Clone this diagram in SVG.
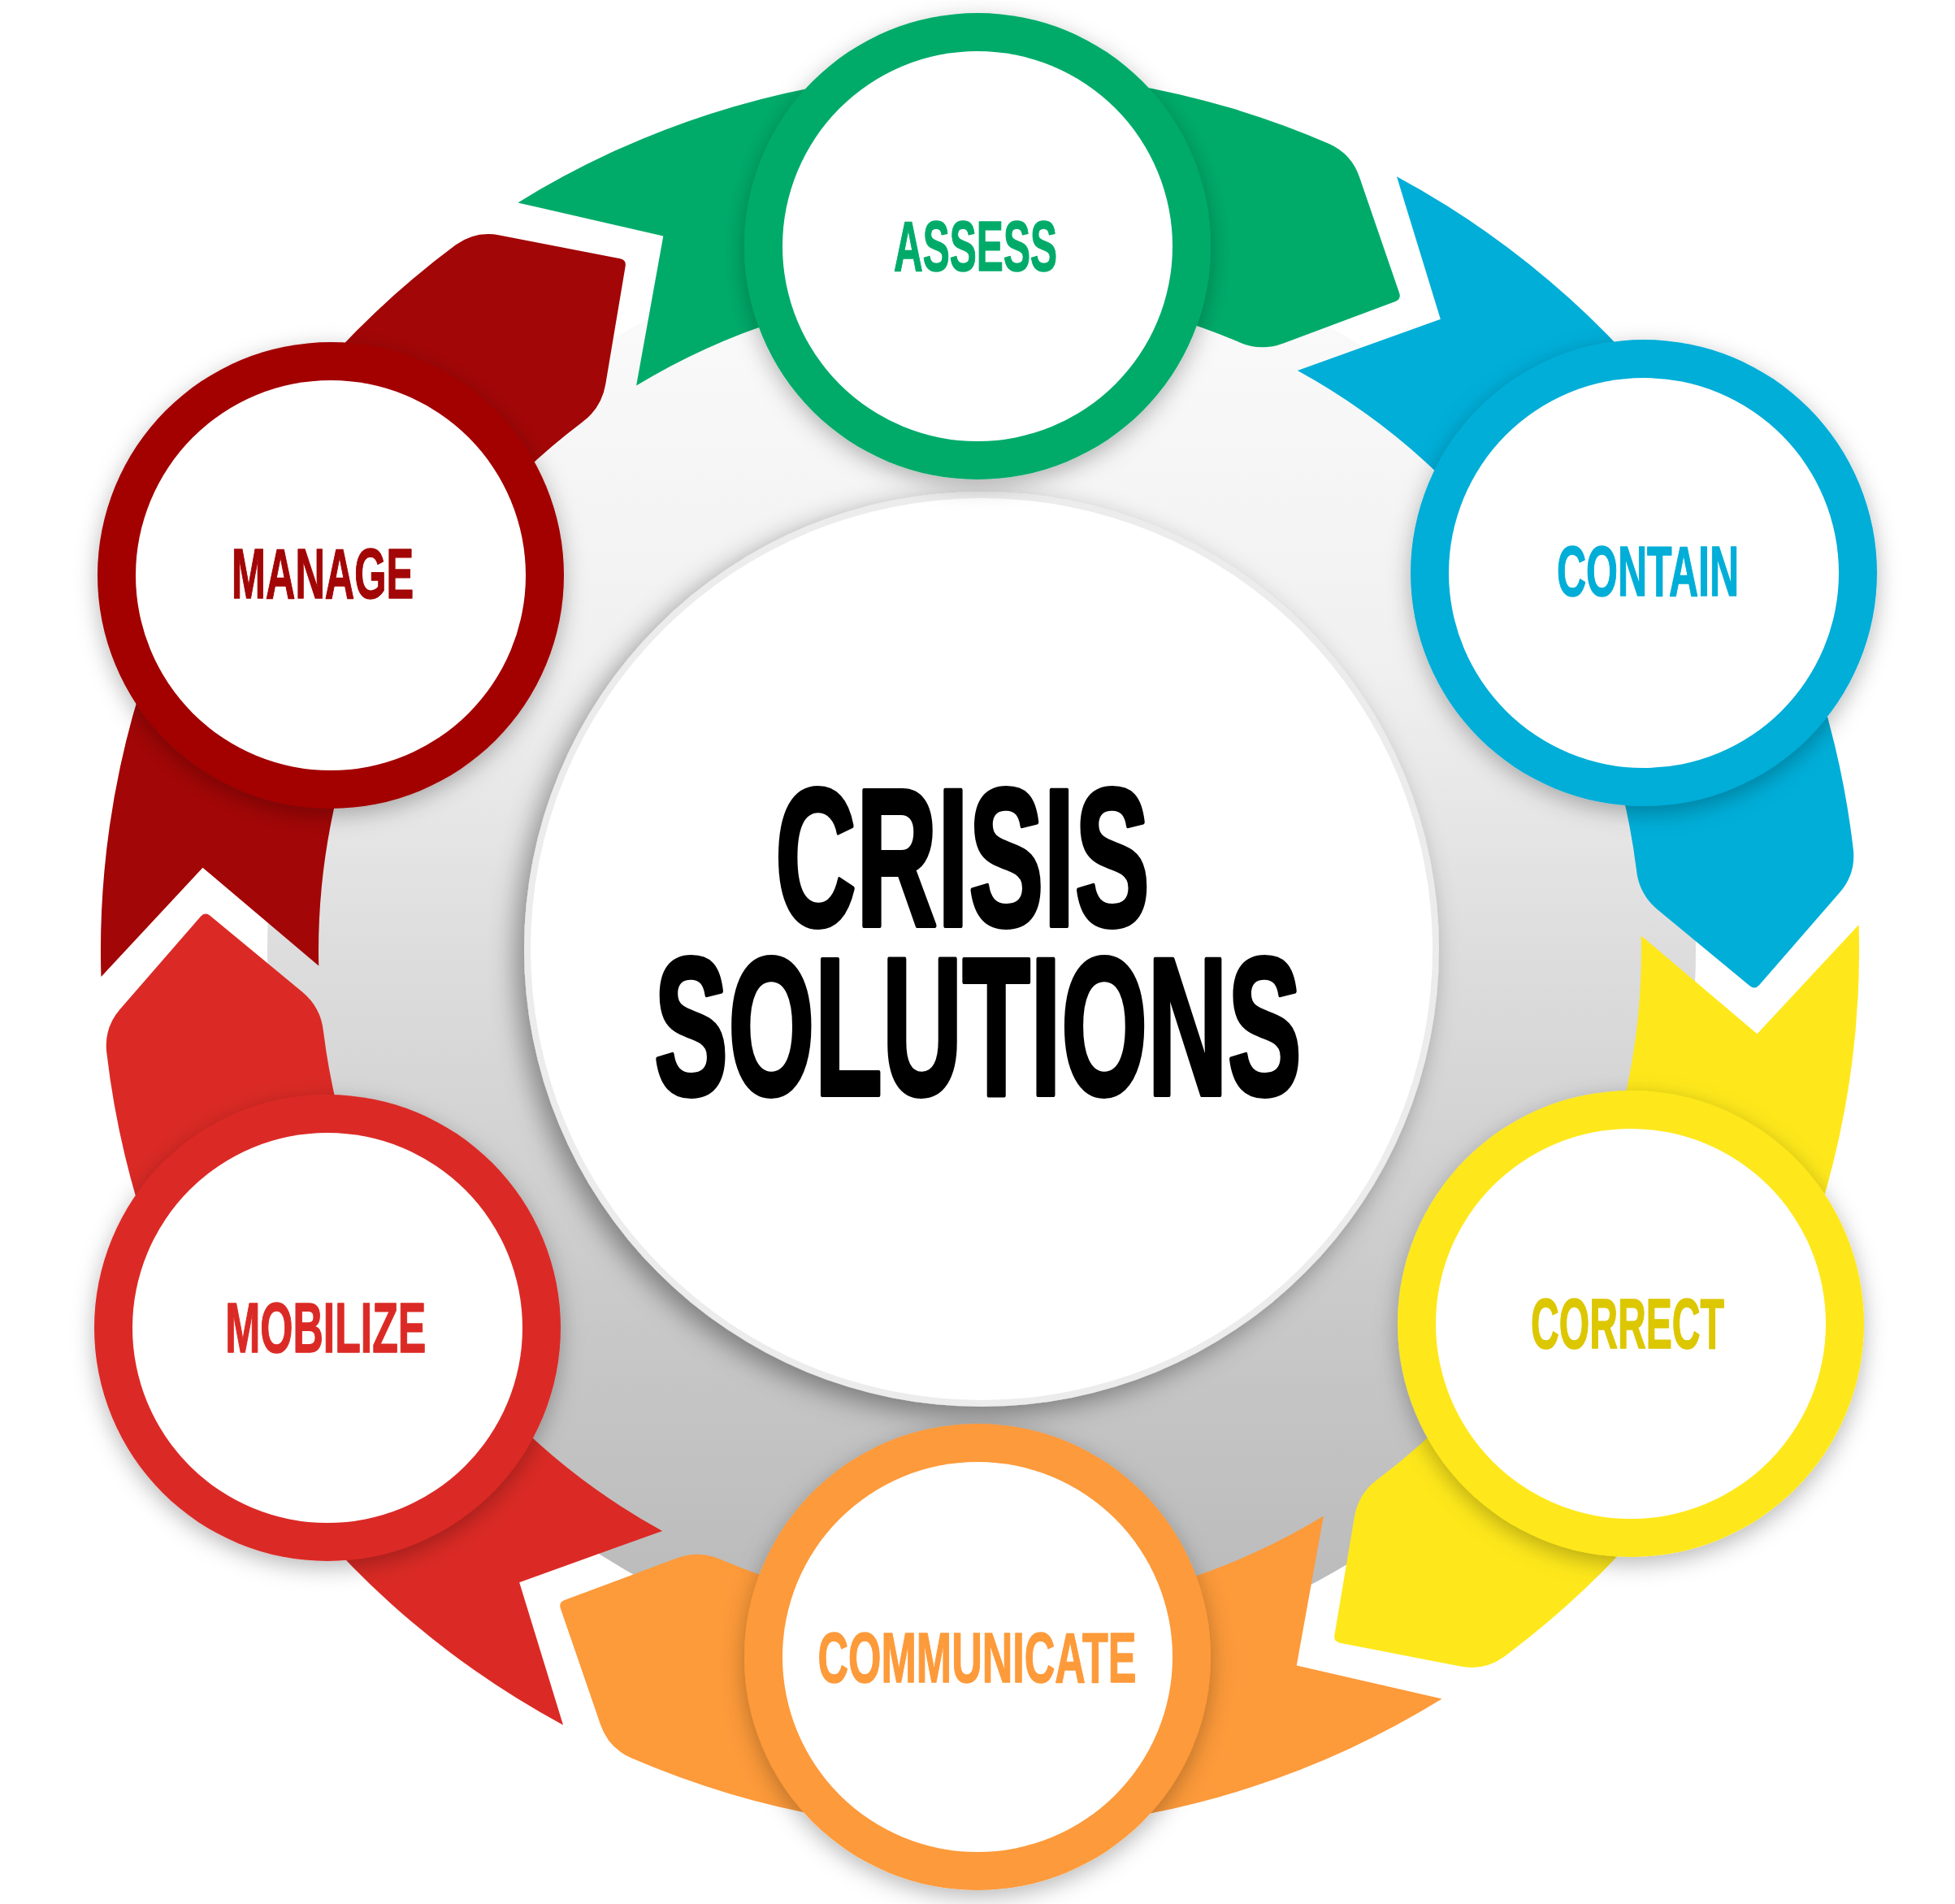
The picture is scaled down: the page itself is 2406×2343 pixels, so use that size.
<svg xmlns="http://www.w3.org/2000/svg" width="2406" height="2343" viewBox="0 0 2406 2343">
<defs>
<style>
.lbl{font-family:"Liberation Sans",Arial,sans-serif;font-weight:700;font-size:88px;text-anchor:middle;stroke-width:1.5;stroke-linejoin:round}
.title{font-family:"Liberation Sans",Arial,sans-serif;font-weight:700;font-size:242px;fill:#000;stroke:#000;stroke-width:6;stroke-linejoin:round}
.inner{fill:#fff}
</style>
<linearGradient id="gd" gradientUnits="userSpaceOnUse" x1="0" y1="291" x2="0" y2="2049">
<stop offset="0" stop-color="#fcfcfc"/>
<stop offset="0.3" stop-color="#f0f0f0"/>
<stop offset="0.5" stop-color="#dddddd"/>
<stop offset="0.8" stop-color="#c5c5c5"/>
<stop offset="1" stop-color="#b8b8b8"/>
</linearGradient>
<filter id="nsh" x="-30%" y="-30%" width="160%" height="160%">
<feDropShadow dx="0" dy="8" stdDeviation="14" flood-color="#000" flood-opacity="0.28"/>
</filter>
<filter id="csh" x="-20%" y="-20%" width="140%" height="140%">
<feDropShadow dx="-10" dy="10" stdDeviation="16" flood-color="#000" flood-opacity="0.38"/>
</filter>
<path id="arrow" d="M 637.4 249.4 A 1082 1082 0 0 1 1635.8 177.0 Q 1663.3 189.4 1673.0 217.8 L 1722.1 360.6 Q 1724.7 368.2 1717.2 371.0 L 1579.4 422.4 Q 1551.3 432.9 1523.9 420.6 A 814 814 0 0 0 783.1 474.5 L 816.3 290.5 Z"/>
</defs>
<rect width="2406" height="2343" fill="#fff"/>
<circle id="backdrop" cx="1208" cy="1170" r="879" fill="url(#gd)"/>
<g id="center">
<circle cx="1208" cy="1168" r="563" fill="#ececec" filter="url(#csh)"/>
<circle cx="1208" cy="1168" r="555" fill="#fff"/>
<text class="title"><tspan x="954" y="1139" textLength="461" lengthAdjust="spacingAndGlyphs">CRISIS</tspan><tspan x="805" y="1347" textLength="797" lengthAdjust="spacingAndGlyphs">SOLUTIONS</tspan></text>
</g>
<g id="connectors">
<use href="#arrow" fill="#00AB6A"/>
<use href="#arrow" fill="#00AED8" transform="rotate(60 1206 1170)"/>
<use href="#arrow" fill="#FEE81B" transform="rotate(120 1206 1170)"/>
<use href="#arrow" fill="#FD9A3A" transform="rotate(180 1206 1170)"/>
<use href="#arrow" fill="#DB2A25" transform="rotate(240 1206 1170)"/>
<use href="#arrow" fill="#A30606" transform="rotate(300 1206 1170)"/>
</g>
<g id="node-assess">
<circle cx="1203" cy="303" r="287" fill="#00AB6A" filter="url(#nsh)"/>
<circle class="inner" cx="1203" cy="303" r="240"/>
<text class="lbl" x="1200.5" y="333" fill="#00AB6A" stroke="#00AB6A" textLength="201" lengthAdjust="spacingAndGlyphs">ASSESS</text>
</g>
<g id="node-contain">
<circle cx="2023" cy="705" r="287" fill="#00AED8" filter="url(#nsh)"/>
<circle class="inner" cx="2023" cy="705" r="240"/>
<text class="lbl" x="2028" y="733" fill="#00AED8" stroke="#00AED8" textLength="224" lengthAdjust="spacingAndGlyphs">CONTAIN</text>
</g>
<g id="node-correct">
<circle cx="2007" cy="1629" r="287" fill="#FEE81B" filter="url(#nsh)"/>
<circle class="inner" cx="2007" cy="1629" r="240"/>
<text class="lbl" x="2003" y="1659" fill="#DCC700" stroke="#DCC700" textLength="238" lengthAdjust="spacingAndGlyphs">CORRECT</text>
</g>
<g id="node-communicate">
<circle cx="1203" cy="2039" r="287" fill="#FD9A3A" filter="url(#nsh)"/>
<circle class="inner" cx="1203" cy="2039" r="240"/>
<text class="lbl" x="1202.5" y="2070" fill="#FD9A3A" stroke="#FD9A3A" textLength="392" lengthAdjust="spacingAndGlyphs">COMMUNICATE</text>
</g>
<g id="node-mobilize">
<circle cx="403" cy="1634" r="287" fill="#DB2A25" filter="url(#nsh)"/>
<circle class="inner" cx="403" cy="1634" r="240"/>
<text class="lbl" x="400.7" y="1664" fill="#DB2A25" stroke="#DB2A25" textLength="247" lengthAdjust="spacingAndGlyphs">MOBILIZE</text>
</g>
<g id="node-manage">
<circle cx="407" cy="708" r="287" fill="#A30606" filter="url(#nsh)"/>
<circle class="inner" cx="407" cy="708" r="240"/>
<text class="lbl" x="397" y="736" fill="#A30606" stroke="#A30606" textLength="224" lengthAdjust="spacingAndGlyphs">MANAGE</text>
</g>
</svg>
